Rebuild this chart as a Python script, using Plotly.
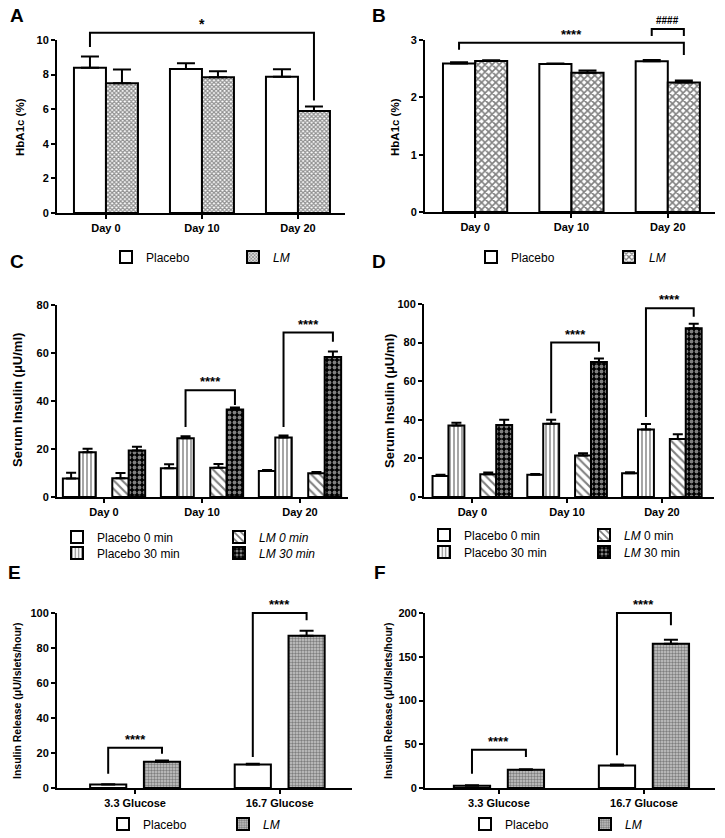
import plotly.graph_objects as go

W, H = 725, 838
FONT = "Liberation Sans"

# ---------------- data ----------------
days = ["Day 0", "Day 10", "Day 20"]
glucose = ["3.3 Glucose", "16.7 Glucose"]

# A: HbA1c (%)
A_placebo = [8.40, 8.33, 7.87]
A_placebo_err = [0.64, 0.32, 0.44]
A_lm = [7.50, 7.85, 5.90]
A_lm_err = [0.80, 0.34, 0.25]

# B: HbA1c (%)
B_placebo = [2.59, 2.58, 2.63]
B_placebo_err = [0.02, 0.01, 0.02]
B_lm = [2.635, 2.43, 2.26]
B_lm_err = [0.01, 0.04, 0.035]

# C: Serum insulin (uU/ml)
C_p0 = [7.7, 12.0, 10.8]
C_p0_err = [2.4, 1.6, 0.5]
C_p30 = [18.6, 24.5, 24.8]
C_p30_err = [1.5, 0.8, 0.8]
C_lm0 = [7.8, 12.2, 9.9]
C_lm0_err = [2.2, 1.6, 0.5]
C_lm30 = [19.4, 36.5, 58.3]
C_lm30_err = [1.5, 0.8, 2.3]

# D: Serum insulin (uU/ml)
D_p0 = [10.9, 11.5, 12.3]
D_p0_err = [0.6, 0.4, 0.5]
D_p30 = [37.0, 38.0, 35.0]
D_p30_err = [1.5, 2.0, 2.8]
D_lm0 = [11.8, 21.5, 30.0]
D_lm0_err = [0.9, 1.2, 2.5]
D_lm30 = [37.3, 70.0, 87.5]
D_lm30_err = [2.7, 1.8, 2.3]

# E / F: insulin release
E_placebo = [2.0, 13.4]
E_placebo_err = [0.2, 0.5]
E_lm = [15.0, 87.0]
E_lm_err = [0.7, 2.8]
F_placebo = [2.6, 25.8]
F_placebo_err = [0.4, 1.0]
F_lm = [20.8, 165.0]
F_lm_err = [0.5, 4.5]

# significance brackets: (group_l, series_l, group_r, series_r, top, left_end, right_end, label)
sig_A = [(0, 0, 2, 1, 10.42, 9.6, 6.5, "*")]
sig_B = [(0, 0, 2, 1, 2.95, 2.83, 2.74, "****"), (2, 0, 2, 1, 3.19, 3.07, 3.07, "####")]
sig_C = [(1, 1, 1, 3, 44.5, 29.2, 38.3, "****"), (2, 1, 2, 3, 68.5, 29.2, 64.7, "****")]
sig_D = [(1, 1, 1, 3, 80.0, 43.4, 75.3, "****"), (2, 1, 2, 3, 97.8, 41.4, 93.4, "****")]
sig_E = [(0, 0, 0, 1, 23.0, 8.2, 19.6, "****"), (1, 0, 1, 1, 100.0, 17.7, 95.8, "****")]
sig_F = [(0, 0, 0, 1, 43.8, 16.4, 35.4, "****"), (1, 0, 1, 1, 200.0, 37.3, 186.0, "****")]

# ---------------- styles ----------------
WHITE = dict(color="white")
HATCH_A = dict(color="white", pattern=dict(shape="x", size=3, solidity=0.65, fgcolor="#222", bgcolor="white"))
CHECK_B = dict(color="white", pattern=dict(shape="x", size=5, solidity=0.55, fgcolor="black", bgcolor="white"))
VLINES = dict(color="white", pattern=dict(shape="|", size=4, solidity=0.35, fgcolor="black", bgcolor="white"))
DIAG = dict(color="white", pattern=dict(shape="\\", size=6, solidity=0.35, fgcolor="black", bgcolor="white"))
DOTS_DARK = dict(color="black", pattern=dict(shape=".", size=5, solidity=0.45, fgcolor="white", bgcolor="black"))
GRAY_CHECK = dict(color="#bbb", pattern=dict(shape=".", size=3, solidity=0.5, fgcolor="#333", bgcolor="#c8c8c8"))

w5 = 0.168
panels = [
    dict(letter="A", n=1, xd=(57, 345), yd=(40, 213), xr=(-0.51, 2.49), yr=(0, 10), dt=2, cats=days,
         ytitle="HbA1c (%)", ytp=(20, 127), yts=11.5, lp=(17, 16),
         width=1/3, centers=[-1/6, 1/6], cap=9, sig=sig_A, star=14,
         series=[("Placebo", A_placebo, A_placebo_err, WHITE, (146, 257)),
                 ("<i>LM</i>", A_lm, A_lm_err, HATCH_A, (273, 257))]),
    dict(letter="B", n=2, xd=(425, 715), yd=(40, 212), xr=(-0.52, 2.49), yr=(0, 3), dt=1, cats=days,
         ytitle="HbA1c (%)", ytp=(395, 127), yts=11.5, lp=(379, 16),
         width=1/3, centers=[-1/6, 1/6], cap=9, sig=sig_B, star=13,
         series=[("Placebo", B_placebo, B_placebo_err, WHITE, (511, 257)),
                 ("<i>LM</i>", B_lm, B_lm_err, CHECK_B, (649, 257))]),
    dict(letter="C", n=3, xd=(57, 348), yd=(305, 497), xr=(-0.48, 2.49), yr=(0, 80), dt=20, cats=days,
         ytitle="Serum Insulin (μU/ml)", ytp=(18, 400), yts=13, lp=(17, 261),
         width=w5, centers=[-2 * w5, -w5, w5, 2 * w5], cap=5, sig=sig_C, star=13,
         series=[("Placebo 0 min", C_p0, C_p0_err, WHITE, (97, 537)),
                 ("Placebo 30 min", C_p30, C_p30_err, VLINES, (97, 553)),
                 ("<i>LM 0 min</i>", C_lm0, C_lm0_err, DIAG, (259, 537)),
                 ("<i>LM 30 min</i>", C_lm30, C_lm30_err, DOTS_DARK, (259, 553))]),
    dict(letter="D", n=4, xd=(424, 714), yd=(304, 497), xr=(-0.51, 2.55), yr=(0, 100), dt=20, cats=days,
         ytitle="Serum Insulin (μU/ml)", ytp=(389, 401), yts=13, lp=(379, 261),
         width=w5, centers=[-2 * w5, -w5, w5, 2 * w5], cap=5, sig=sig_D, star=13,
         series=[("Placebo 0 min", D_p0, D_p0_err, WHITE, (464, 535)),
                 ("Placebo 30 min", D_p30, D_p30_err, VLINES, (464, 552)),
                 ("<i>LM</i> 0 min", D_lm0, D_lm0_err, DIAG, (624, 535)),
                 ("<i>LM</i> 30 min", D_lm30, D_lm30_err, DOTS_DARK, (624, 552))]),
    dict(letter="E", n=5, xd=(57, 352), yd=(613, 788), xr=(-0.54, 1.5), yr=(0, 100), dt=20, cats=glucose,
         ytitle="Insulin Release (μU/Islets/hour)", ytp=(17, 701), yts=10.5, lp=(14, 572),
         width=0.25, centers=[-0.186, 0.186], cap=7, sig=sig_E, star=13,
         series=[("Placebo", E_placebo, E_placebo_err, WHITE, (143, 824)),
                 ("<i>LM</i>", E_lm, E_lm_err, GRAY_CHECK, (263, 824))]),
    dict(letter="F", n=6, xd=(425, 715), yd=(613, 788), xr=(-0.51, 1.49), yr=(0, 200), dt=50, cats=glucose,
         ytitle="Insulin Release (μU/Islets/hour)", ytp=(388, 701), yts=10.5, lp=(380, 572),
         width=0.25, centers=[-0.186, 0.186], cap=7, sig=sig_F, star=13,
         series=[("Placebo", F_placebo, F_placebo_err, WHITE, (505, 824)),
                 ("<i>LM</i>", F_lm, F_lm_err, GRAY_CHECK, (625, 824))]),
]

# legend calibration (text start / item centre relative to legend anchor)
LEG_DX, LEG_DY = 40, 0

fig = go.Figure()
shapes, annotations = [], []
layout_upd = {}
legend_idx = 0


def xpaper(p, v):
    x0, x1 = p["xd"][0] / W, p["xd"][1] / W
    r0, r1 = p["xr"]
    return x0 + (v - r0) / (r1 - r0) * (x1 - x0)


def ypaper(p, v):
    y0, y1 = 1 - p["yd"][1] / H, 1 - p["yd"][0] / H
    r0, r1 = p["yr"]
    return y0 + (v - r0) / (r1 - r0) * (y1 - y0)


for p in panels:
    n = p["n"]
    sfx = "" if n == 1 else str(n)
    xa, ya = "x" + sfx, "y" + sfx
    tickfont = dict(family=FONT, size=11, color="black", weight="bold")
    layout_upd["xaxis" + sfx] = dict(
        domain=[p["xd"][0] / W, p["xd"][1] / W], anchor=ya, type="category",
        range=list(p["xr"]), showline=True, linecolor="black", linewidth=2,
        ticks="outside", ticklen=4, tickwidth=2, tickcolor="black",
        showgrid=False, zeroline=False, tickfont=tickfont, fixedrange=True)
    layout_upd["yaxis" + sfx] = dict(
        domain=[1 - p["yd"][1] / H, 1 - p["yd"][0] / H], anchor=xa,
        range=list(p["yr"]), dtick=p["dt"], showline=True, linecolor="black", linewidth=2,
        ticks="outside", ticklen=4, tickwidth=2, tickcolor="black",
        showgrid=False, zeroline=False, tickfont=tickfont, fixedrange=True)

    for (name, vals, errs, marker, lpos), c in zip(p["series"], p["centers"]):
        legend_idx += 1
        lkey = "legend" if legend_idx == 1 else "legend%d" % legend_idx
        layout_upd[lkey] = dict(
            x=(lpos[0] - LEG_DX) / W, y=1 - (lpos[1] - LEG_DY) / H, xanchor="left", yanchor="middle",
            bgcolor="rgba(0,0,0,0)", borderwidth=0, visible=True,
            font=dict(family=FONT, size=12, color="black"))
        m = dict(marker)
        m["line"] = dict(color="black", width=2)
        fig.add_trace(go.Bar(
            x=p["cats"], y=vals, width=p["width"], offset=c - p["width"] / 2,
            xaxis=xa, yaxis=ya, name=name, legend=lkey, showlegend=True, marker=m,
            error_y=dict(type="data", symmetric=False, array=errs, arrayminus=[0] * len(errs),
                         color="black", thickness=2, width=p["cap"]),
            hoverinfo="skip"))

    # significance brackets
    for gl, sl, gr, sr, top, le, re_, lab in p["sig"]:
        xl = xpaper(p, gl + p["centers"][sl])
        xr_ = xpaper(p, gr + p["centers"][sr])
        yt, yl, yr_ = ypaper(p, top), ypaper(p, le), ypaper(p, re_)
        shapes.append(dict(type="path", xref="paper", yref="paper",
                           path="M%f,%f L%f,%f L%f,%f L%f,%f" % (xl, yl, xl, yt, xr_, yt, xr_, yr_),
                           line=dict(color="black", width=2)))
        is_hash = lab.startswith("#")
        annotations.append(dict(x=(xl + xr_) / 2, y=yt, xref="paper", yref="paper",
                                text="<b>%s</b>" % lab, showarrow=False,
                                xanchor="center", yanchor="bottom",
                                yshift=1 if is_hash else -1,
                                font=dict(family=FONT, size=10 if is_hash else p["star"], color="black")))

    # axis title
    annotations.append(dict(x=p["ytp"][0] / W, y=1 - p["ytp"][1] / H, xref="paper", yref="paper",
                            text="<b>%s</b>" % p["ytitle"], textangle=-90, showarrow=False,
                            xanchor="center", yanchor="middle",
                            font=dict(family=FONT, size=p["yts"], color="black")))
    # panel letter
    annotations.append(dict(x=p["lp"][0] / W, y=1 - p["lp"][1] / H, xref="paper", yref="paper",
                            text="<b>%s</b>" % p["letter"], showarrow=False,
                            xanchor="center", yanchor="middle",
                            font=dict(family=FONT, size=19, color="black")))

fig.update_layout(layout_upd)
fig.update_layout(
    width=W, height=H, barmode="overlay", showlegend=True,
    margin=dict(l=0, r=0, t=0, b=0, autoexpand=False),
    paper_bgcolor="white", plot_bgcolor="white",
    shapes=shapes, annotations=annotations,
    font=dict(family=FONT, color="black"),
)

fig.write_html("out.html", config={"displayModeBar": False},
               post_script="document.body.style.margin='0';document.body.style.padding='0';")
